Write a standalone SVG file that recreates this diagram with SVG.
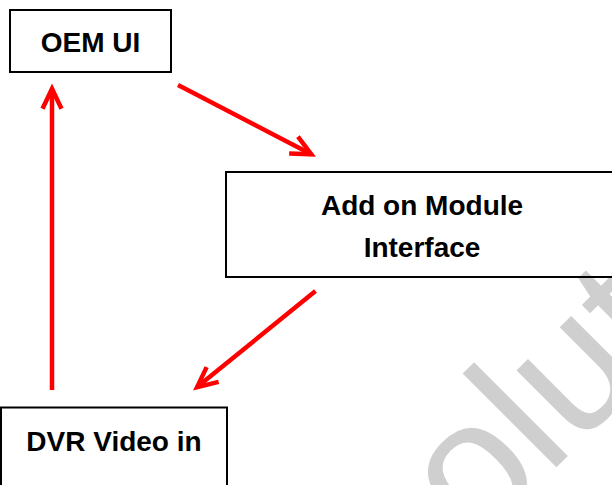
<svg xmlns="http://www.w3.org/2000/svg" width="612" height="485" viewBox="0 0 612 485">
  <style>
    .box { fill: none; stroke: #000; stroke-width: 2; }
    .label { font-family: "Liberation Sans", Arial, sans-serif; font-weight: bold; font-size: 28px; fill: #000; text-anchor: middle; }
    .conn { stroke: #ff0000; stroke-width: 4.5; fill: none; }
    .wm { font-family: "Liberation Sans", Arial, sans-serif; font-size: 183px; fill: #cfcfcf; }
  </style>
  <defs>
    <marker id="arrow" markerUnits="userSpaceOnUse" markerWidth="40" markerHeight="40" refX="0" refY="0" orient="auto" overflow="visible" viewBox="-30 -20 40 40">
      <path d="M-20,-9.5 L0,0 L-20,9.5" fill="none" stroke="#ff0000" stroke-width="4.5" stroke-linejoin="miter" stroke-linecap="butt"/>
    </marker>
  </defs>
  <rect width="612" height="485" fill="#ffffff"/>
  <text class="wm" x="475.7" y="547.9" transform="rotate(-45 475.7 547.9)">olut</text>
  <g id="node-oem-ui">
    <rect class="box" x="10" y="10" width="161" height="62"/>
    <text class="label" x="90.5" y="51.5">OEM UI</text>
  </g>
  <g id="node-add-on-module">
    <rect class="box" x="226" y="172" width="400" height="105"/>
    <text class="label" x="422" y="215">Add on Module</text>
    <text class="label" x="422" y="257">Interface</text>
  </g>
  <g id="node-dvr-video-in">
    <rect class="box" x="1" y="407.5" width="226" height="90"/>
    <text class="label" x="114" y="450.5">DVR Video in</text>
  </g>
  <g id="connectors">
    <line class="conn" x1="178" y1="85" x2="311.3" y2="154.3" marker-end="url(#arrow)"/>
    <line class="conn" x1="315.5" y1="291" x2="197.1" y2="387.1" marker-end="url(#arrow)"/>
    <line class="conn" x1="52" y1="390" x2="52" y2="88.7" marker-end="url(#arrow)"/>
  </g>
</svg>
